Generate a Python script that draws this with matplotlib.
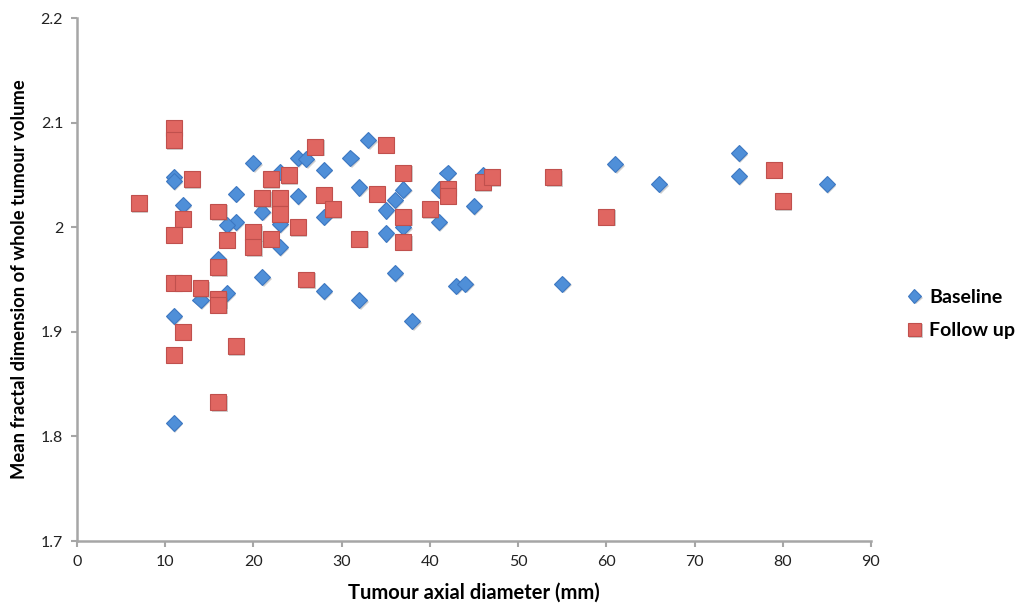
import matplotlib
matplotlib.use("Agg")
import matplotlib.pyplot as plt
import matplotlib.patheffects as pe
from matplotlib.lines import Line2D

# Baseline measurements: tumour axial diameter (mm) vs mean fractal dimension
baseline_x = [11, 11, 11, 12, 11, 14, 17, 21, 28, 20, 18, 25, 26, 28, 25, 21,
              18, 17, 23, 23, 28, 16, 31, 23, 33, 32, 37, 42, 41, 46, 36, 35,
              45, 41, 37, 35, 36, 32, 43, 44, 38, 55, 61, 66, 75, 75, 85]
baseline_y = [1.813, 2.048, 2.044, 2.021, 1.915, 1.930, 1.937, 1.952, 1.939,
              2.061, 2.032, 2.066, 2.065, 2.055, 2.030, 2.015, 2.005, 2.002,
              2.003, 1.981, 2.010, 1.970, 2.066, 2.053, 2.083, 2.038, 2.036,
              2.052, 2.036, 2.050, 2.026, 2.016, 2.020, 2.005, 2.000, 1.994,
              1.956, 1.930, 1.944, 1.946, 1.910, 1.946, 2.060, 2.041, 2.071,
              2.049, 2.041]

# Follow-up measurements
follow_x = [7, 11, 11, 13, 27, 22, 24, 21, 23, 28, 29, 12, 16, 23, 11, 17,
            20, 20, 22, 25, 16, 11, 12, 14, 16, 16, 26, 12, 11, 18, 16, 35,
            37, 34, 37, 37, 32, 40, 42, 42, 46, 47, 54, 60, 79, 80]
follow_y = [2.023, 2.095, 2.083, 2.046, 2.077, 2.046, 2.050, 2.028, 2.028,
            2.031, 2.017, 2.008, 2.015, 2.013, 1.993, 1.988, 1.995, 1.981,
            1.989, 2.000, 1.962, 1.947, 1.947, 1.942, 1.931, 1.926, 1.950,
            1.900, 1.878, 1.886, 1.833, 2.079, 2.052, 2.032, 2.010, 1.986,
            1.989, 2.017, 2.037, 2.030, 2.043, 2.048, 2.048, 2.010, 2.055,
            2.025]

x_ticks = [0, 10, 20, 30, 40, 50, 60, 70, 80, 90]
y_ticks = [1.7, 1.8, 1.9, 2.0, 2.1, 2.2]
y_tick_labels = ["1.7", "1.8", "1.9", "2", "2.1", "2.2"]

plt.rcParams["font.family"] = ["Lato", "DejaVu Sans"]

fig = plt.figure(figsize=(10.2, 6.1), dpi=100)
ax = fig.add_axes([77 / 1020, 69 / 610, 794 / 1020, 523 / 610])

shadow = [pe.SimplePatchShadow(offset=(1.0, -1.2), shadow_rgbFace="#777777", alpha=0.35),
          pe.Normal()]

ax.plot(baseline_x, baseline_y, linestyle="none", marker="D", markersize=8.2,
        markerfacecolor="#4f8fd8", markeredgecolor="#3d78c2", markeredgewidth=0.8,
        path_effects=shadow, zorder=3)
ax.plot(follow_x, follow_y, linestyle="none", marker="s", markersize=11.5,
        markerfacecolor="#e06661", markeredgecolor="#c0504d", markeredgewidth=0.8,
        path_effects=shadow, zorder=4)

ax.set_xlim(0, 90)
ax.set_ylim(1.7, 2.2)
ax.set_xticks(x_ticks)
ax.set_yticks(y_ticks)
ax.set_yticklabels(y_tick_labels)

for side in ("top", "right"):
    ax.spines[side].set_visible(False)
for side in ("left", "bottom"):
    ax.spines[side].set_color("#a6a6a6")
    ax.spines[side].set_linewidth(1.8)

ax.tick_params(axis="both", direction="out", length=4, width=1.5,
               color="#a6a6a6", labelsize=11.5, labelcolor="#222222", pad=6)

ax.set_xlabel("Tumour axial diameter (mm)", fontsize=14.5, fontweight="bold",
              labelpad=10)
ax.set_ylabel("Mean fractal dimension of whole tumour volume", fontsize=13.2,
              fontweight="bold", labelpad=9)

handles = [
    Line2D([], [], linestyle="none", marker="D", markersize=7,
           markerfacecolor="#4f8fd8", markeredgecolor="#3d78c2",
           markeredgewidth=0.8, path_effects=shadow, label="Baseline"),
    Line2D([], [], linestyle="none", marker="s", markersize=10,
           markerfacecolor="#e06661", markeredgecolor="#c0504d",
           markeredgewidth=0.8, path_effects=shadow, label="Follow up"),
]
fig.legend(handles=handles, loc="center left", bbox_to_anchor=(897 / 1020, 1 - 314 / 610),
           frameon=False, handletextpad=0.25, labelspacing=0.85, borderaxespad=0,
           prop={"weight": "bold", "size": 14}, handlelength=1.0)

fig.savefig("out.png", dpi=100)
